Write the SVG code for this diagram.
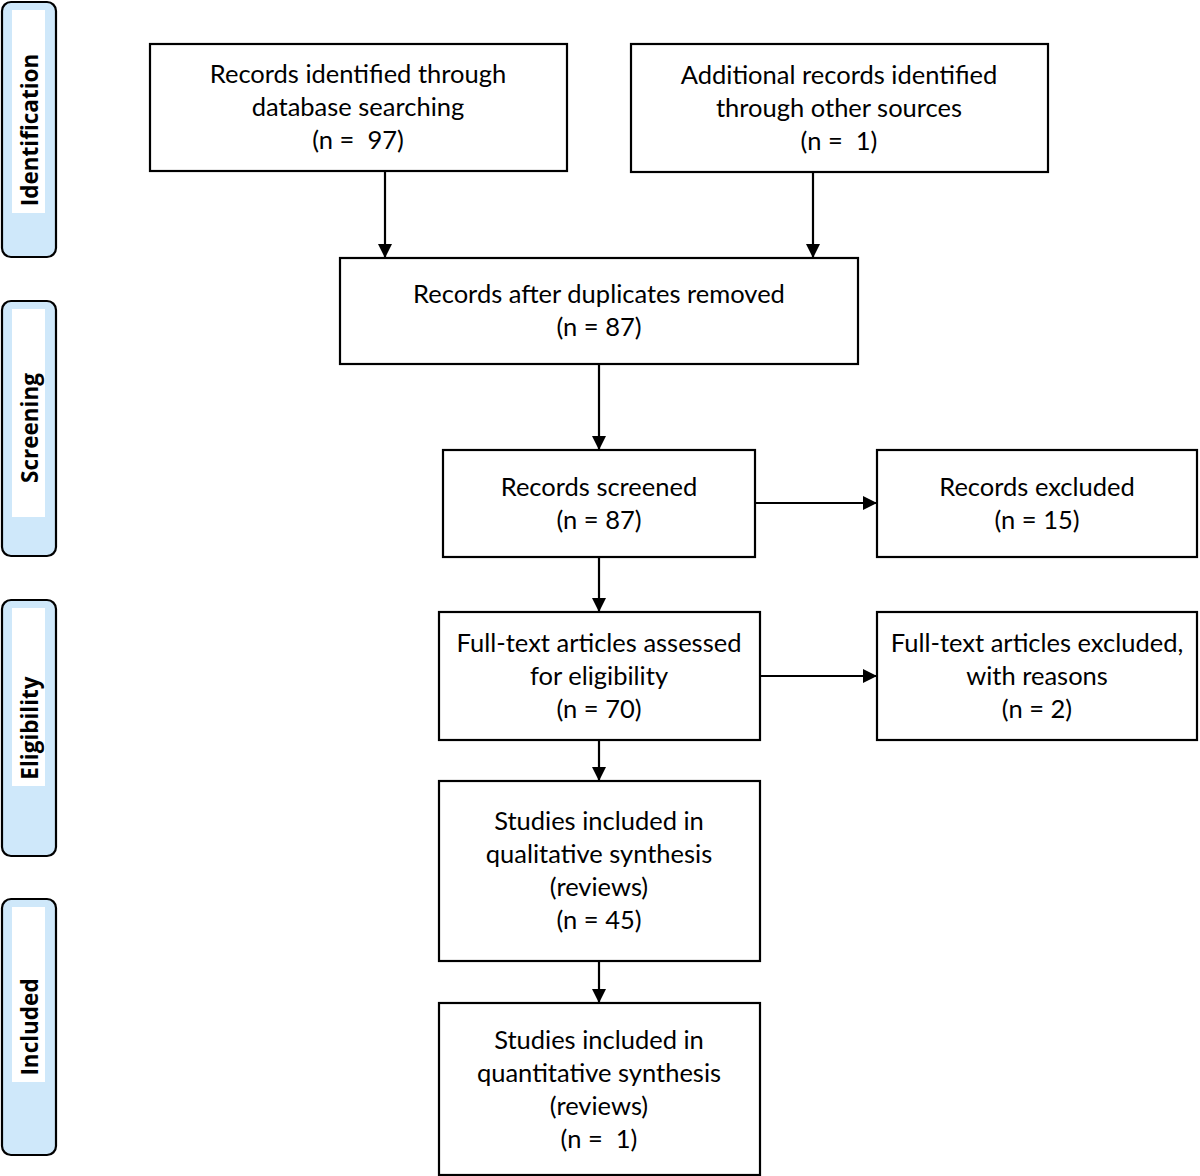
<svg xmlns="http://www.w3.org/2000/svg" width="1200" height="1176" viewBox="0 0 1200 1176">
<style>
.box{fill:#fff;stroke:#000;stroke-width:2.2}
.side{fill:#cfe8fa;stroke:#000;stroke-width:2.2}
.inner{fill:#fff;stroke:none}
.t{font-family:Lato,"Open Sans",sans-serif;font-size:25.5px;fill:#000;text-anchor:middle;dominant-baseline:central;white-space:pre}
.st{font-family:"Open Sans",Lato,sans-serif;font-size:22.5px;font-weight:bold;fill:#000;text-anchor:middle;dominant-baseline:central}
.c{stroke:#000;stroke-width:2.2;fill:none;marker-end:url(#ah)}
</style>
<defs>
<marker id="ah" viewBox="0 0 14 14" refX="14" refY="7" markerWidth="14" markerHeight="14" markerUnits="userSpaceOnUse" orient="auto">
<path d="M0,0 L14,7 L0,14 Z" fill="#000"/>
</marker>
</defs>
<rect width="1200" height="1176" fill="#fff"/>
<g id="side-identification">
<rect class="side" x="2" y="2" width="54" height="255" rx="9"/>
<rect class="inner" x="12" y="10" width="33" height="203"/>
<text class="st" transform="translate(29,130) rotate(-90)">Identification</text>
</g>
<g id="side-screening">
<rect class="side" x="2" y="301" width="54" height="255" rx="9"/>
<rect class="inner" x="12" y="309" width="33" height="208"/>
<text class="st" transform="translate(29,428) rotate(-90)">Screening</text>
</g>
<g id="side-eligibility">
<rect class="side" x="2" y="600" width="54" height="256" rx="9"/>
<rect class="inner" x="12" y="608" width="33" height="178"/>
<text class="st" transform="translate(29,728) rotate(-90)">Eligibility</text>
</g>
<g id="side-included">
<rect class="side" x="2" y="899" width="54" height="256" rx="9"/>
<rect class="inner" x="12" y="907" width="33" height="175"/>
<text class="st" transform="translate(29,1027) rotate(-90)">Included</text>
</g>
<g id="connectors">
<line class="c" x1="385" y1="172" x2="385" y2="258"/>
<line class="c" x1="813" y1="173" x2="813" y2="258"/>
<line class="c" x1="599" y1="365" x2="599" y2="450"/>
<line class="c" x1="599" y1="558" x2="599" y2="612"/>
<line class="c" x1="756" y1="503" x2="877" y2="503"/>
<line class="c" x1="761" y1="676" x2="877" y2="676"/>
<line class="c" x1="599" y1="741" x2="599" y2="781"/>
<line class="c" x1="599" y1="962" x2="599" y2="1003"/>
</g>
<g id="n1">
<rect class="box" x="150" y="44" width="417" height="127"/>
<text class="t" x="358" y="73">Records identified through</text>
<text class="t" x="358" y="106">database searching</text>
<text class="t" x="358" y="139" xml:space="preserve">(n =  97)</text>
</g>
<g id="n2">
<rect class="box" x="631" y="44" width="417" height="128"/>
<text class="t" x="839" y="74">Additional records identified</text>
<text class="t" x="839" y="107">through other sources</text>
<text class="t" x="839" y="140" xml:space="preserve">(n =  1)</text>
</g>
<g id="n3">
<rect class="box" x="340" y="258" width="518" height="106"/>
<text class="t" x="599" y="293">Records after duplicates removed</text>
<text class="t" x="599" y="326">(n = 87)</text>
</g>
<g id="n4">
<rect class="box" x="443" y="450" width="312" height="107"/>
<text class="t" x="599" y="486">Records screened</text>
<text class="t" x="599" y="519">(n = 87)</text>
</g>
<g id="n5">
<rect class="box" x="877" y="450" width="320" height="107"/>
<text class="t" x="1037" y="486">Records excluded</text>
<text class="t" x="1037" y="519">(n = 15)</text>
</g>
<g id="n6">
<rect class="box" x="439" y="612" width="321" height="128"/>
<text class="t" x="599" y="642">Full-text articles assessed</text>
<text class="t" x="599" y="675">for eligibility</text>
<text class="t" x="599" y="708">(n = 70)</text>
</g>
<g id="n7">
<rect class="box" x="877" y="612" width="320" height="128"/>
<text class="t" x="1037" y="642">Full-text articles excluded,</text>
<text class="t" x="1037" y="675">with reasons</text>
<text class="t" x="1037" y="708">(n = 2)</text>
</g>
<g id="n8">
<rect class="box" x="439" y="781" width="321" height="180"/>
<text class="t" x="599" y="820">Studies included in</text>
<text class="t" x="599" y="853">qualitative synthesis</text>
<text class="t" x="599" y="886">(reviews)</text>
<text class="t" x="599" y="919">(n = 45)</text>
</g>
<g id="n9">
<rect class="box" x="439" y="1003" width="321" height="172"/>
<text class="t" x="599" y="1039">Studies included in</text>
<text class="t" x="599" y="1072">quantitative synthesis</text>
<text class="t" x="599" y="1105">(reviews)</text>
<text class="t" x="599" y="1138" xml:space="preserve">(n =  1)</text>
</g>
</svg>
